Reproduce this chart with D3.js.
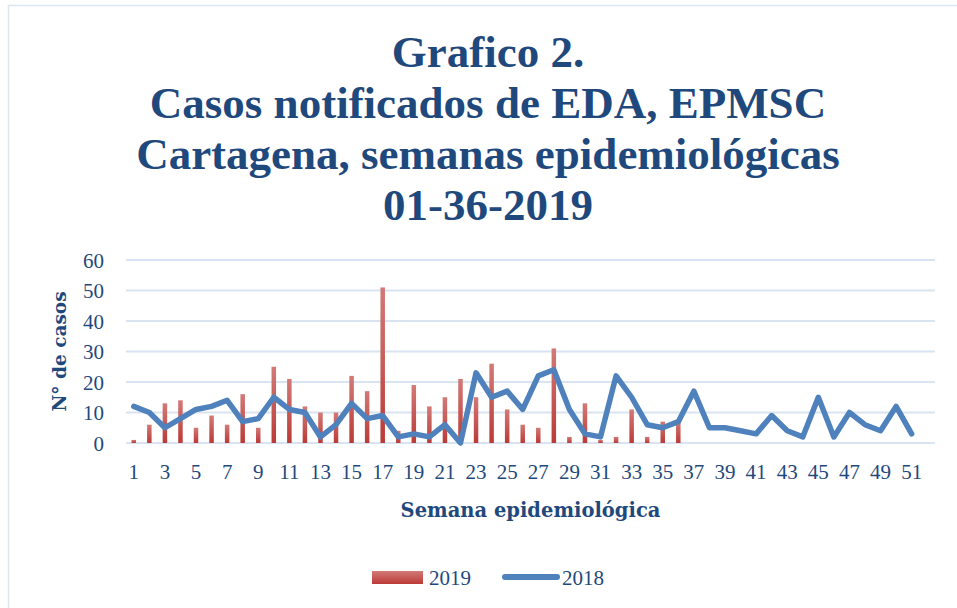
<!DOCTYPE html>
<html>
<head>
<meta charset="utf-8">
<script src="https://cdn.jsdelivr.net/npm/d3@7"></script>
<style>
  body { margin: 0; background: #fff; }
  text { font-family: "Liberation Serif", "DejaVu Serif", serif; fill: #1f497d; }
  .title { font-weight: bold; }
  .axtitle { font-family: "DejaVu Serif", serif; font-weight: bold; }
</style>
</head>
<body>
<div id="vis"></div>
<script>
// data
var weeks = d3.range(1, 53);
var casos2019 = [1, 6, 13, 14, 5, 9, 6, 16, 5, 25, 21, 12, 10, 10, 22, 17, 51, 4, 19, 12,
                 15, 21, 15, 26, 11, 6, 5, 31, 2, 13, 1, 2, 11, 2, 7, 7];
var casos2018 = [12, 10, 5, 8, 11, 12, 14, 7, 8, 15, 11, 10, 2, 6, 13, 8, 9, 2, 3, 2,
                 6, 0, 23, 15, 17, 11, 22, 24, 11, 3, 2, 22, 15, 6, 5, 7, 17, 5, 5, 4,
                 3, 9, 4, 2, 15, 2, 10, 6, 4, 12, 3];
var yTicks = [0, 10, 20, 30, 40, 50, 60];
var titleLines = ["Grafico 2.", "Casos notificados de EDA, EPMSC",
                  "Cartagena, semanas epidemiológicas", "01-36-2019"];

var W = 957, H = 608;
var plot = {left: 126, right: 935, top: 260, bottom: 443};

var svg = d3.select("#vis").append("svg")
    .attr("width", W).attr("height", H);

// bar gradient
var defs = svg.append("defs");
var grad = defs.append("linearGradient").attr("id", "barGrad")
    .attr("x1", 0).attr("y1", 0).attr("x2", 0).attr("y2", 1);
grad.append("stop").attr("offset", "0%").attr("stop-color", "#d27a77");
grad.append("stop").attr("offset", "100%").attr("stop-color", "#bb3a36");

// chart frame
svg.append("rect")
    .attr("x", 8.5).attr("y", 5.5).attr("width", W + 10).attr("height", H + 10)
    .attr("fill", "none").attr("stroke", "#dce6f2").attr("stroke-width", 1.5);

// title
svg.append("g").selectAll("text").data(titleLines).enter().append("text")
    .attr("class", "title")
    .attr("x", 488).attr("y", function(d, i) { return 67 + i * 51; })
    .attr("text-anchor", "middle")
    .style("font-size", "45px")
    .text(function(d) { return d; });

var x = d3.scaleBand().domain(weeks).range([plot.left, plot.right]);
var y = d3.scaleLinear().domain([0, 60]).range([plot.bottom, plot.top]);

// gridlines
svg.append("g").selectAll("line").data(yTicks).enter().append("line")
    .attr("x1", plot.left).attr("x2", plot.right)
    .attr("y1", function(d) { return y(d); }).attr("y2", function(d) { return y(d); })
    .attr("stroke", "#d9e4f2").attr("stroke-width", 2);

// y axis labels
var yAxis = svg.append("g")
    .attr("transform", "translate(" + (plot.left - 22) + ",0)")
    .call(d3.axisLeft(y).tickValues(yTicks).tickSize(0).tickPadding(0));
yAxis.select(".domain").remove();
yAxis.selectAll("text").style("font-size", "21px").attr("dy", "0.35em").attr("fill", "#1f497d");

// x axis labels
var xAxis = svg.append("g")
    .attr("transform", "translate(0," + (plot.bottom + 20) + ")")
    .call(d3.axisBottom(x).tickValues(weeks.filter(function(d) { return d % 2 === 1; }))
        .tickSize(0).tickPadding(0));
xAxis.select(".domain").remove();
xAxis.selectAll("text").style("font-size", "21px").attr("dy", "0.78em").attr("fill", "#1f497d");

// bars 2019
var barW = 4.5;
svg.append("g").selectAll("rect").data(casos2019).enter().append("rect")
    .attr("x", function(d, i) { return x(weeks[i]) + x.bandwidth() / 2 - barW / 2; })
    .attr("y", function(d) { return y(d); })
    .attr("width", barW)
    .attr("height", function(d) { return y(0) - y(d); })
    .attr("fill", "url(#barGrad)");

// line 2018
var line = d3.line()
    .x(function(d, i) { return x(weeks[i]) + x.bandwidth() / 2; })
    .y(function(d) { return y(d); });
svg.append("path").datum(casos2018)
    .attr("d", line)
    .attr("fill", "none").attr("stroke", "#4f81bd").attr("stroke-width", 5.5)
    .attr("stroke-linejoin", "round").attr("stroke-linecap", "round");

// axis titles
svg.append("text").attr("class", "axtitle")
    .attr("transform", "translate(66," + ((plot.top + plot.bottom) / 2) + ") rotate(-90)")
    .attr("text-anchor", "middle").style("font-size", "18.5px")
    .text("N° de casos");
svg.append("text").attr("class", "axtitle")
    .attr("x", (plot.left + plot.right) / 2).attr("y", 517)
    .attr("text-anchor", "middle").style("font-size", "19.5px")
    .text("Semana epidemiológica");

// legend
var leg = svg.append("g");
leg.append("rect").attr("x", 372).attr("y", 571).attr("width", 51).attr("height", 13)
    .attr("fill", "url(#barGrad)");
leg.append("text").attr("x", 429).attr("y", 585).style("font-size", "21px").text("2019");
leg.append("line").attr("x1", 505).attr("x2", 557).attr("y1", 577).attr("y2", 577)
    .attr("stroke", "#4f81bd").attr("stroke-width", 6).attr("stroke-linecap", "round");
leg.append("text").attr("x", 562).attr("y", 585).style("font-size", "21px").text("2018");
</script>
</body>
</html>
